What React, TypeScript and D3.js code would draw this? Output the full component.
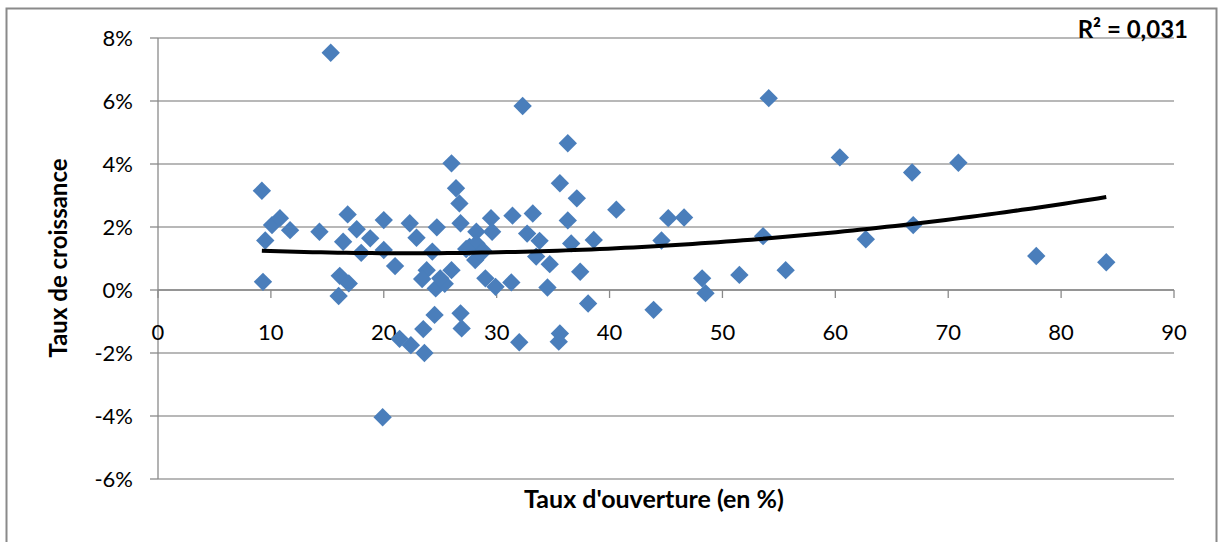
import React from "react";
import * as d3 from "d3";

// Taux d'ouverture (en %) for each country
const openness = [
  9.2, 9.5, 9.3, 10.1, 10.8, 11.7, 14.3, 16.8, 16.4, 17.6,
  18.0, 18.8, 20.0, 20.0, 21.0, 16.1, 16.9, 16.0, 19.9, 21.4,
  22.4, 23.6, 15.3, 22.3, 22.9, 24.7, 24.3, 23.8, 23.4, 24.6,
  25.4, 26.0, 26.0, 26.4, 26.7, 26.8, 28.2, 29.5, 29.6, 27.6,
  28.2, 28.8, 28.1, 31.4, 29.0, 29.9, 31.3, 26.8, 26.9, 24.5,
  23.5, 32.0, 35.6, 35.5, 34.5, 36.3, 35.6, 37.1, 40.6, 33.2,
  36.3, 32.7, 33.8, 36.6, 38.6, 33.5, 34.7, 37.4, 38.1, 32.3,
  54.1, 45.2, 46.6, 44.6, 53.6, 48.2, 48.5, 51.5, 55.6, 43.9,
  60.4, 66.8, 70.9, 62.7, 66.9, 77.8, 84.0, 25.0, 28.6, 27.3,
];
// Taux de croissance (en %) for the same countries
const growth = [
  3.15, 1.57, 0.26, 2.06, 2.28, 1.9, 1.85, 2.4, 1.53, 1.93,
  1.18, 1.64, 2.22, 1.27, 0.76, 0.45, 0.21, -0.19, -4.04, -1.55,
  -1.75, -2.0, 7.53, 2.12, 1.66, 1.99, 1.22, 0.63, 0.35, 0.05,
  0.2, 0.63, 4.02, 3.23, 2.75, 2.12, 1.85, 2.28, 1.85, 1.37,
  1.48, 1.25, 0.95, 2.36, 0.37, 0.1, 0.24, -0.74, -1.22, -0.79,
  -1.24, -1.66, -1.38, -1.64, 0.08, 4.66, 3.39, 2.91, 2.55, 2.43,
  2.21, 1.79, 1.56, 1.48, 1.59, 1.06, 0.82, 0.58, -0.43, 5.84,
  6.09, 2.28, 2.3, 1.57, 1.71, 0.37, -0.1, 0.48, 0.63, -0.63,
  4.21, 3.73, 4.04, 1.61, 2.06, 1.08, 0.88, 0.37, 1.15, 1.3,
];

const xTicks = [0, 10, 20, 30, 40, 50, 60, 70, 80, 90];
const yTicks = [-6, -4, -2, 0, 2, 4, 6, 8];
const xTitle = "Taux d'ouverture (en %)";
const yTitle = "Taux de croissance";
const r2Label = "R² = 0,031";

// least-squares polynomial (order 2) trendline, as in the spreadsheet
function quadFit(xs: number[], ys: number[]) {
  const n = xs.length;
  let s1 = 0, s2 = 0, s3 = 0, s4 = 0, t0 = 0, t1 = 0, t2 = 0;
  for (let i = 0; i < n; i++) {
    const x = xs[i], y = ys[i];
    s1 += x; s2 += x * x; s3 += x * x * x; s4 += x * x * x * x;
    t0 += y; t1 += x * y; t2 += x * x * y;
  }
  const A = [
    [n, s1, s2, t0],
    [s1, s2, s3, t1],
    [s2, s3, s4, t2],
  ];
  for (let i = 0; i < 3; i++) {
    for (let k = i + 1; k < 3; k++) {
      const f = A[k][i] / A[i][i];
      for (let j = i; j < 4; j++) A[k][j] -= f * A[i][j];
    }
  }
  const c = [0, 0, 0];
  for (let i = 2; i >= 0; i--) {
    let s = A[i][3];
    for (let j = i + 1; j < 3; j++) s -= A[i][j] * c[j];
    c[i] = s / A[i][i];
  }
  return c;
}

export default function App() {
  const W = 1219, H = 542;
  const x = d3.scaleLinear().domain([0, 90]).range([158, 1174]);
  const y = d3.scaleLinear().domain([-6, 8]).range([479, 38]);
  const font = "Lato, 'Open Sans', sans-serif";

  const coef = quadFit(openness, growth);
  const xmin = d3.min(openness) as number;
  const xmax = d3.max(openness) as number;
  const trendXs = d3.range(0, 101).map((i) => xmin + ((xmax - xmin) * i) / 100);
  const line = d3
    .line<number>()
    .x((d) => x(d))
    .y((d) => y(coef[0] + coef[1] * d + coef[2] * d * d));

  const diamond = d3.symbol().type(d3.symbolDiamond2).size(215)() as string;
  const pts = openness.map((o, i) => [o, growth[i]]);

  return (
    <svg width={W} height={H} style={{ position: "absolute", left: 0, top: 0, background: "#fff" }}>
      <rect x={0} y={0} width={W} height={H} fill="#fff" />
      <rect x={6.5} y={8.5} width={1210} height={600} fill="#fff" stroke="#8a8a8a" strokeWidth={2} />
      {/* horizontal gridlines */}
      {yTicks.map((t) => (
        <line key={"g" + t} x1={x(0)} x2={x(90)} y1={y(t)} y2={y(t)} stroke="#a0a0a0" strokeWidth={1.3} />
      ))}
      {/* y axis */}
      <line x1={x(0)} x2={x(0)} y1={y(-6)} y2={y(8)} stroke="#8a8a8a" strokeWidth={1.3} />
      {yTicks.map((t) => (
        <line key={"yt" + t} x1={x(0) - 8} x2={x(0)} y1={y(t)} y2={y(t)} stroke="#8a8a8a" strokeWidth={1.3} />
      ))}
      {yTicks.map((t) => (
        <text key={"yl" + t} x={133} y={y(t) + 7.5} textAnchor="end" fontFamily={font} fontSize={22} fill="#000">
          {`${t}%`}
        </text>
      ))}
      {/* x axis at 0 */}
      <line x1={x(0)} x2={x(90)} y1={y(0)} y2={y(0)} stroke="#8a8a8a" strokeWidth={1.3} />
      {xTicks.map((t) => (
        <line key={"xt" + t} x1={x(t)} x2={x(t)} y1={y(0)} y2={y(0) + 8} stroke="#8a8a8a" strokeWidth={1.3} />
      ))}
      {xTicks.map((t) => (
        <text key={"xl" + t} x={x(t)} y={340} textAnchor="middle" fontFamily={font} fontSize={22} fill="#000">
          {t}
        </text>
      ))}
      {/* points */}
      {pts.map((p, i) => (
        <path key={"p" + i} d={diamond} transform={`translate(${x(p[0])},${y(p[1])})`} fill="#4a7ebb" />
      ))}
      {/* trendline */}
      <path d={line(trendXs) as string} fill="none" stroke="#000" strokeWidth={4} />
      {/* titles */}
      <text x={1188} y={38} textAnchor="end" fontFamily={font} fontSize={24} fontWeight="bold" fill="#000">
        {r2Label}
      </text>
      <text x={654} y={508} textAnchor="middle" fontFamily={font} fontSize={25} fontWeight="bold" fill="#000">
        {xTitle}
      </text>
      <text
        transform={`translate(67,258) rotate(-90)`}
        textAnchor="middle"
        fontFamily={font}
        fontSize={24}
        fontWeight="bold"
        fill="#000"
      >
        {yTitle}
      </text>
    </svg>
  );
}
